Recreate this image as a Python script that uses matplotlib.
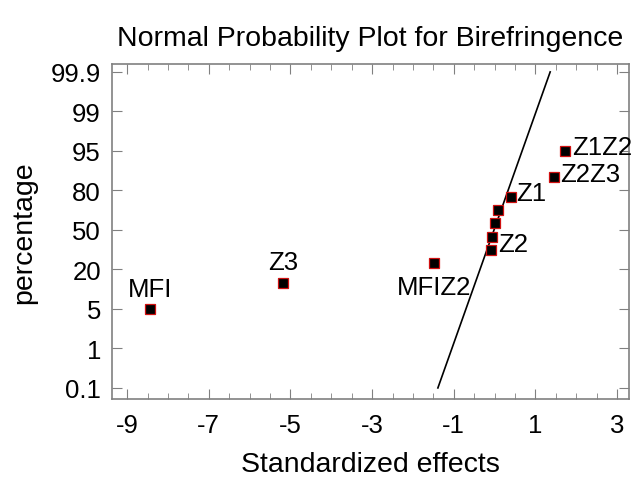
import numpy as np
import matplotlib
matplotlib.use('Agg')
import matplotlib.pyplot as plt
from matplotlib.ticker import MultipleLocator

plt.rcParams['font.family'] = ['Liberation Sans', 'DejaVu Sans']
plt.rcParams['axes.unicode_minus'] = False

# Data
effect_names = ['MFI', 'Z3', 'MFIZ2', '', '', '', '', 'Z1', 'Z2Z3', 'Z1Z2']
effects = [-8.45, -5.19, -1.48, -0.09, -0.06, 0.0, 0.08, 0.39, 1.46, 1.73]
percent = [5, 15, 25, 35, 45, 55, 65, 75, 85, 95]

# reference line (0.1% -> 99.9%)
line_x = [-1.39, 1.36]
line_pct = [0.1, 99.9]

# y tick labels, drawn equally spaced
tick_pct = [0.1, 1, 5, 20, 50, 80, 95, 99, 99.9]
tick_labels = ['0.1', '1', '5', '20', '50', '80', '95', '99', '99.9']

# piecewise linear scale: each labelled percentage gets one equal step
kp = np.array(tick_pct, dtype=float)
ki = np.arange(len(kp), dtype=float)
ext_p = np.concatenate([[kp[0] - (kp[1] - kp[0])], kp, [kp[-1] + (kp[-1] - kp[-2])]])
ext_i = np.concatenate([[-1.0], ki, [len(kp)]])


def fwd(p):
    return np.interp(p, ext_p, ext_i)


def inv(i):
    return np.interp(i, ext_i, ext_p)


GREY = '#808080'
LABEL_FS = 18.5

fig = plt.figure(figsize=(6.36, 4.85), dpi=100)
ax = fig.add_axes([112 / 636, 1 - 400 / 485, (629 - 112) / 636, (400 - 65) / 485])
ax.set_yscale('function', functions=(fwd, inv))

ax.plot(line_x, line_pct, color='black', lw=1.2, zorder=2)
ax.plot(effects, percent, ls='none', marker='s', ms=7, mfc='black',
        mec='#d01010', mew=0.9, zorder=3)

# point labels: (dx, dy) offsets in points plus alignment
label_pos = {
    'MFI': ((0, 6), 'center', 'bottom'),
    'Z3': ((0, 6), 'center', 'bottom'),
    'MFIZ2': ((0, -9), 'center', 'top'),
    'Z1': ((4, 3), 'left', 'center'),
    'Z2Z3': ((4, 2), 'left', 'center'),
    'Z1Z2': ((5, 3), 'left', 'center'),
}
for name, x, y in zip(effect_names, effects, percent):
    if name in label_pos:
        off, ha, va = label_pos[name]
        ax.annotate(name, (x, y), xytext=off, textcoords='offset points',
                    ha=ha, va=va, fontsize=LABEL_FS, annotation_clip=False)
# Z2 label sits to the right of the two lowest centre points
ax.annotate('Z2', (effects[3], percent[3]), xytext=(5, 4), textcoords='offset points',
            ha='left', va='center', fontsize=LABEL_FS)

ax.set_xlim(-9.37, 3.29)
ax.set_ylim(inv(-0.28), inv(8.2))
ax.set_xticks([-9, -7, -5, -3, -1, 1, 3])
ax.xaxis.set_minor_locator(MultipleLocator(0.5))
ax.set_yticks(tick_pct)
ax.set_yticklabels(tick_labels)
ax.yaxis.set_minor_locator(plt.NullLocator())

ax.tick_params(which='both', direction='in', top=True, right=True, color=GREY,
               labelsize=18.5)
ax.tick_params(which='major', length=7)
ax.tick_params(which='minor', length=4)
ax.tick_params(axis='y', pad=8)
ax.tick_params(axis='x', pad=10)
for s in ax.spines.values():
    s.set_color(GREY)
    s.set_linewidth(1.2)

ax.set_title('Normal Probability Plot for Birefringence', fontsize=20.5, pad=14)
ax.set_xlabel('Standardized effects', fontsize=20.5, labelpad=10)
ax.set_ylabel('percentage', fontsize=20.5, labelpad=10)

fig.savefig('out.png', dpi=100)
